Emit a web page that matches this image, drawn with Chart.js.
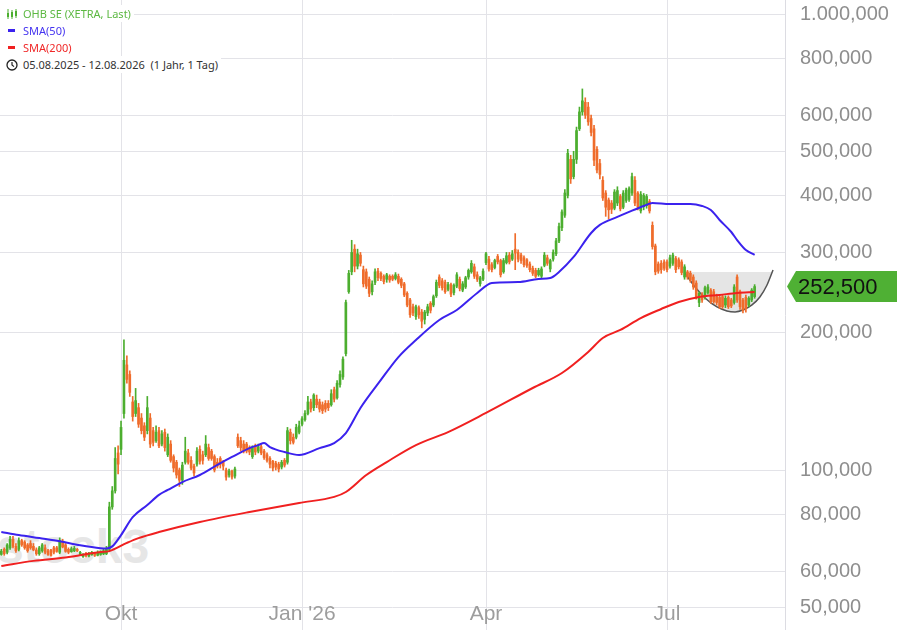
<!DOCTYPE html>
<html>
<head>
<meta charset="utf-8">
<script src="https://cdn.jsdelivr.net/npm/chart.js@4.4.1/dist/chart.umd.min.js"></script>
<style>
  html, body { margin: 0; padding: 0; background: #fff; }
  #wrap { position: relative; width: 897px; height: 630px; overflow: hidden; }
  #mark { position: absolute; left: -3px; top: 519px; line-height: 48px; font: bold 48px 'Liberation Sans', Arial, sans-serif; color: #e6e6e6; z-index: 0; }
  canvas { position: absolute; left: 0; top: 0; z-index: 1; }
  #legend { position: absolute; left: 0; top: 5px; z-index: 2; font: 11px 'Noto Sans', sans-serif; }
  .row { height: 17px; display: flex; align-items: center; }
  .row .ico { width: 23px; height: 17px; background: #fff; display: flex; align-items: center; justify-content: center; }
  .row .t { background: #fff; padding-right: 3px; line-height: 17px; }
  .dash { display: inline-block; width: 7px; height: 3px; }
</style>
</head>
<body>
<div id="wrap">
  <div id="mark">stock3</div>
  <canvas id="chart" width="897" height="630"></canvas>
  <div id="legend">
    <div class="row"><span class="ico"><svg width="12" height="12" viewBox="0 0 12 12"><g stroke="#4cae2f" stroke-width="1"><line x1="2" y1="1" x2="2" y2="11"/><line x1="6" y1="2" x2="6" y2="11"/><line x1="10" y1="1" x2="10" y2="10"/></g><g fill="#4cae2f"><rect x="1" y="5" width="2" height="4"/><rect x="5" y="4" width="2" height="5"/><rect x="9" y="3" width="2" height="5"/></g></svg></span><span class="t" style="color:#5cb842">OHB SE (XETRA, Last)</span></div>
    <div class="row"><span class="ico"><span class="dash" style="background:#3b22ee"></span></span><span class="t" style="color:#4433f0">SMA(50)</span></div>
    <div class="row"><span class="ico"><span class="dash" style="background:#f02020"></span></span><span class="t" style="color:#f02828">SMA(200)</span></div>
    <div class="row"><span class="ico"><svg width="12" height="12" viewBox="0 0 12 12"><circle cx="6" cy="6" r="5" fill="none" stroke="#222" stroke-width="1.3"/><path d="M6 3 V6 L8 7.6" stroke="#222" stroke-width="1.2" fill="none"/></svg></span><span class="t" style="color:#333">05.08.2025 - 12.08.2026&nbsp;&nbsp;(1 Jahr, 1 Tag)</span></div>
  </div>
</div>
<script>
// daily candles, [open, high, low, close] in thousand EUR, one array per month
const aug25 = [
  [65.3,67,65,66.4], [67,67.5,65,65.5], [66,69,65.5,68.5], [67.5,71.5,67,70.5], [70.5,71.5,67.5,68],
  [68,69,66,66.5], [67,71,66.5,70], [70,70.5,68,68.5], [69.5,70,67,67.5], [68.5,69,66,66.5],
  [69,70,67,67.5], [68,69,66.5,66.8], [66.8,67.5,65,65.5], [65.5,68,65,67.5], [66.5,69,66,68.5],
  [67.5,68.5,65.5,66], [66.5,67,65,65.3], [66.8,67,64.7,65], [67.5,68,65.5,66]
]
const sep25 = [
  [67.5,68,66,66.3], [66,71,65.5,70], [69.5,70.5,67.5,67.8], [68.5,69,66,66.3], [67,67.5,65.5,66],
  [66.2,67.8,66,67.2], [66.5,68,66.2,67.3], [67,67.3,66.2,66.5], [65.3,66.3,65,66], [64.6,65.6,64.3,65.3],
  [65.6,66,64.5,64.8], [64.8,66,64.5,65.6], [65.2,66.3,65,66], [65.8,66,64.6,65], [65,66.5,64.8,66],
  [65.3,66.5,65,66], [65.5,67,65.2,66.5], [65.5,68,65.2,67], [67,85,66.5,83], [83,92,82,90],
  [90,112,89,106], [109,113,98,103]
]
const oct25 = [
  [111,128,108,124], [133,193,130,174], [170,178,155,158], [162,165,145,148], [141,145,128,131],
  [133,151,131,142], [137,140,124,126], [130,133,120,122], [125,127,116,118], [122,145,120,137],
  [130,133,112,114], [122,124,113,115], [116,125,115,121], [122,124,112,113], [114,122,113,120],
  [121,123,110,112], [108,120,107,118], [114,116,104,105], [107,108,99,101], [104,105,96,97.5],
  [100,101,92,95], [95,104,93,102.5], [104,118,103,110]
]
const nov25 = [
  [109,111,103,104], [105,107,100,101], [102,103,97,98.5], [103,112,102,110], [111,113,103,104.5],
  [108,110,103,105], [108,119,107,114], [112,114,105,106], [110,111,105,106], [107,108,99,100],
  [104,106,101,102], [106,107,101,103], [104,105,100,102], [100,101,95,96.5], [97.5,100.5,96.5,99.5],
  [99.5,100,95.5,96.5], [97,101.5,96,100.5], [118,120,112,113], [116,118,110,112], [114,116,109,110]
]
const dec25 = [
  [114,115,109,110], [112,113,108,109.5], [107,113,106,112], [113,114,108,109.5], [110,114,109,112.5],
  [112.5,113.5,108,109], [110,111,105.5,106.5], [108,109,104,105], [106,107,101,103], [104.5,105,99.5,101],
  [103.5,104.5,100,101.5], [103,104,99,100.5], [101.5,105,100.5,104], [105,106,101.5,102.5], [104,124,103,122],
  [121,123,114,116], [118,120,114,115], [118,126,117,124], [121,128,120,125]
]
const jan26 = [
  [126,131,125,129.5], [129,135,128,133], [133,145,132,141], [141,143,134,136], [137,147,135,146],
  [143,146,137,139], [141,143,134,136], [139,141,133,135], [140,142,134,136], [140,142,135,137],
  [139,150,138,147], [150,152,141,143], [144,157,143,155], [154,165,152,162], [160,177,158,175],
  [180,236,178,233], [246,274,244,270], [272,319,268,300], [305,312,272,280], [280,305,276,298],
  [296,300,280,284]
]
const feb26 = [
  [275,280,252,256], [272,276,250,253], [262,265,240,244], [246,260,242,256], [258,276,255,272],
  [273,277,260,264], [270,272,260,263], [266,268,256,259], [262,270,258,268], [266,268,258,261],
  [266,268,260,262], [263,271,261,268], [266,269,256,258], [262,264,251,254], [256,258,240,242],
  [244,246,228,230], [236,238,216,219], [228,231,218,221], [217,230,214,228], [227,229,215,219]
]
const mar26 = [
  [222,225,205,212], [214,224,209,222], [221,231,218,228], [232,234,221,224], [230,242,228,240],
  [241,261,239,258], [265,268,251,254], [260,263,248,251], [258,261,244,246], [249,258,247,255],
  [255,257,240,243], [245,256,242,254], [253,271,251,268], [262,265,247,250], [248,259,246,256],
  [252,266,250,264], [265,276,262,274], [272,288,270,284], [279,283,263,266], [268,272,259,262],
  [256,266,253,264], [262,276,260,273]
]
const apr26 = [
  [285,300,282,298], [290,294,273,276], [282,285,272,275], [278,290,276,288], [294,297,283,286],
  [288,290,265,268], [272,291,270,288], [285,300,283,295], [296,300,283,286], [290,303,288,298],
  [305,330,275,299], [300,304,286,290], [296,299,284,288], [292,295,279,282], [289,291,278,281],
  [283,286,272,275], [277,280,267,270], [274,277,264,266], [268,277,266,274], [266,279,264,276]
]
const may26 = [
  [281,300,279,296], [292,296,281,284], [276,290,272,288], [290,304,287,300], [298,322,295,318],
  [318,348,315,342], [340,372,335,368], [362,412,358,405], [400,505,395,495], [480,490,425,435],
  [440,500,435,480], [480,565,470,555], [560,625,555,610], [610,685,600,645], [640,655,590,600],
  [625,640,570,580], [590,600,540,550], [560,570,465,478], [505,512,448,455], [470,480,435,445]
]
const jun26 = [
  [432,440,390,395], [405,410,360,377], [391,395,355,372], [385,390,365,373], [375,412,372,407],
  [385,418,380,410], [398,402,370,374], [377,410,374,405], [390,415,386,411], [392,418,388,414],
  [405,448,400,440], [432,440,380,385], [405,408,372,377], [370,408,366,402], [378,404,372,400],
  [380,402,375,398], [388,392,366,370], [344,350,305,309], [310,313,268,272], [283,286,270,273],
  [284,288,270,275], [286,289,274,277]
]
const jul26 = [
  [286,289,272,275], [280,296,277,292], [284,299,281,296], [291,294,271,275], [289,292,276,279],
  [286,289,268,271], [265,282,262,279], [272,274,262,265], [270,273,258,261], [265,268,249,252],
  [257,260,237,240], [233,246,228,244], [242,245,233,236], [240,253,237,251], [245,255,243,252],
  [248,250,232,234], [246,249,232,234], [240,243,230,233], [239,241,226,228], [240,242,226,228],
  [230,241,227,238], [239,241,226,228], [236,238,227,229]
]
const aug26 = [
  [233,255,231,252], [265,268,233,236], [246,248,225,228], [236,238,221,224], [239,242,222,226],
  [230,240,228,238], [236,250,234,248], [240,255,238,252.5]
]

// moving averages: [trading day, value]
const sma50 = [
  [0,73.1], [6,72.0], [13,70.9], [20,69.8], [27,68.4], [34,67.4], [36,67.3], [38,68.0], [41,72.0],
  [45,78.8], [50,83.8], [54,88.2], [57,90.4], [62,94.1], [68,97.5], [74,102.6], [79,106.8], [85,111.7],
  [88,113.4], [90,114.6], [92,112.3], [97,109.5], [102,107.9], [109,111.7], [114,114.6], [118,120.5],
  [123,136.8], [130,157.6], [136,176.9], [142,192.8], [150,213.3], [156,224.3], [163,244.5], [168,257.1],
  [177,258.4], [184,262.4], [188,263.7], [191,271.8], [196,293.2], [202,331], [205,344.7], [211,358.9],
  [215,368.1], [220,379.4], [223,385.2], [229,383.2], [236,383.2], [240,379.4], [243,371.7], [246,353.4],
  [250,332.6], [252,319.4], [255,303.7], [258,296.4]
]
const sma200 = [
  [0,61.6], [11,63.2], [22,64.3], [34,66.1], [37,66.4], [43,69.2], [47,70.9], [54,73.1], [68,76.9],
  [85,80.9], [102,84.7], [114,87.3], [118,89.5], [125,97.5], [132,104.1], [142,113.4], [153,121.1],
  [166,133.4], [182,151.3], [192,163.2], [201,181.5], [206,194.8], [212,202.8], [219,215.4], [226,225.5],
  [232,233.6], [239,239.6], [246,242.1], [252,244.5], [258,245.7]
]

// cup drawn over the last weeks
const cup = [
  [234.1,270.4], [237.6,251.9], [241,238.4], [245.1,227.8], [248.5,223.3], [251.3,222.2],
  [254,224.3], [257.1,230.2], [259.8,239.6], [262.2,254.2], [264.3,274.5]
]
const cupTop = 271.8

const yTicks = [50, 60, 80, 100, 200, 300, 400, 500, 600, 800, 1000]
const monthLabels = ['Okt', "Jan '26", 'Apr', 'Jul']
const labelledMonths = [oct25, jan26, apr26, jul26]

const months = [aug25, sep25, oct25, nov25, dec25, jan26, feb26, mar26, apr26, may26, jun26, jul26, aug26]
const candles = [].concat(...months)
const lastClose = candles[candles.length - 1][3]

function startOf(month) {
  let n = 0
  for (const m of months) {
    if (m === month) return n
    n += m.length
  }
}
const monthTicks = labelledMonths.map(startOf)

function fmt(v) {
  if (v === 1000) return '1.000,000'
  return String(Math.round(v * 1000)).replace(/\B(?=(\d{3})+(?!\d))/g, ',')
}

const GREEN = '#4cae2f'
const ORANGE = '#ef6c2b'
const candleColors = candles.map(c => c[3] >= c[0] ? GREEN : ORANGE)
const pts = arr => arr.map(([x, y]) => ({ x, y }))

const overlay = {
  id: 'overlay',
  afterDraw(chart) {
    const { ctx, chartArea } = chart
    const x = chart.scales.x
    const y = chart.scales.y
    ctx.save()
    ctx.font = '21px "Liberation Sans", Arial, sans-serif'
    ctx.fillStyle = '#9d9d9d'
    ctx.textAlign = 'center'
    ctx.textBaseline = 'middle'
    monthTicks.forEach((v, k) => ctx.fillText(monthLabels[k], x.getPixelForValue(v), chartArea.bottom - 16))

    const py = y.getPixelForValue(lastClose)
    const l = chartArea.right + 2
    const h = 31
    ctx.fillStyle = '#4fb034'
    ctx.beginPath()
    ctx.moveTo(l, py)
    ctx.lineTo(l + 9, py - h / 2)
    ctx.lineTo(chart.width, py - h / 2)
    ctx.lineTo(chart.width, py + h / 2)
    ctx.lineTo(l + 9, py + h / 2)
    ctx.closePath()
    ctx.fill()
    ctx.fillStyle = '#111'
    ctx.font = '22px "Liberation Sans", Arial, sans-serif'
    ctx.textAlign = 'left'
    ctx.fillText(fmt(lastClose), l + 11, py + 1)
    ctx.restore()
  }
}

Chart.defaults.font.family = '"Liberation Sans", Arial, sans-serif'

new Chart(document.getElementById('chart'), {
  type: 'bar',
  data: {
    datasets: [
      {
        type: 'line', label: 'SMA(50)', data: pts(sma50),
        borderColor: '#3b22ee', borderWidth: 2, pointRadius: 0,
        cubicInterpolationMode: 'monotone', order: 0
      },
      {
        type: 'line', label: 'SMA(200)', data: pts(sma200),
        borderColor: '#f02020', borderWidth: 2, pointRadius: 0,
        cubicInterpolationMode: 'monotone', order: 1
      },
      {
        label: 'bodies',
        data: candles.map((c, i) => ({ x: i, y: [Math.min(c[0], c[3]), Math.max(c[0], c[3])] })),
        backgroundColor: candleColors, barThickness: 2, minBarLength: 1, grouped: false, order: 2
      },
      {
        label: 'wicks',
        data: candles.map((c, i) => ({ x: i, y: [c[2], c[1]] })),
        backgroundColor: candleColors, barThickness: 1, grouped: false, order: 3
      },
      {
        type: 'line', label: 'cup', data: pts(cup),
        borderColor: '#555', borderWidth: 1.5, pointRadius: 0,
        backgroundColor: 'rgba(150,150,150,0.25)', fill: { value: cupTop },
        cubicInterpolationMode: 'monotone', order: 6
      }
    ]
  },
  options: {
    responsive: false,
    animation: false,
    events: [],
    layout: { padding: 0 },
    plugins: { legend: { display: false }, tooltip: { enabled: false } },
    scales: {
      x: {
        type: 'linear', min: -0.45, max: 268.4, offset: false,
        grid: { color: '#e3e3e8', drawTicks: false, offset: false },
        border: { display: false },
        ticks: { display: false },
        afterBuildTicks: s => { s.ticks = monthTicks.map(v => ({ value: v })) },
        afterFit: s => { s.height = 0; s.paddingLeft = 0; s.paddingRight = 0 }
      },
      y: {
        type: 'logarithmic', position: 'right', min: 44.58, max: 1073.3,
        grid: { color: '#e3e3e8', drawTicks: false },
        border: { display: true, color: '#dcdce2' },
        ticks: {
          autoSkip: false, crossAlign: 'near', padding: 15, color: '#8e8e8e',
          font: { size: 20 }, callback: v => fmt(v)
        },
        afterBuildTicks: s => { s.ticks = yTicks.map(v => ({ value: v })) },
        afterFit: s => { s.width = 112; s.paddingTop = 0; s.paddingBottom = 0 }
      }
    }
  },
  plugins: [overlay]
})
</script>
</body>
</html>
